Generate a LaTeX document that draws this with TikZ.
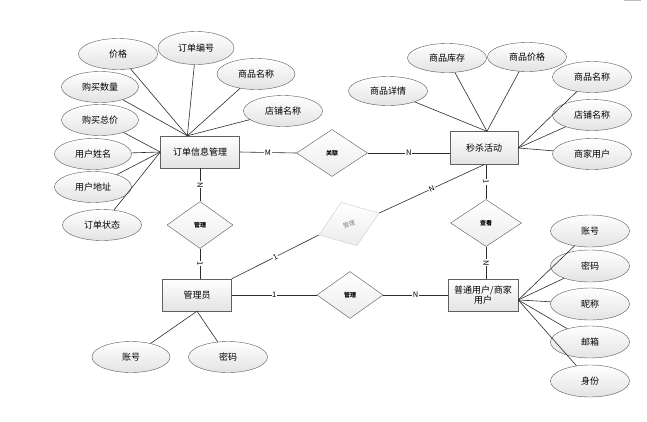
\documentclass[tikz,border=0pt]{standalone}
\usepackage{fontspec}
\setmainfont{Noto Sans CJK SC}
\usetikzlibrary{shapes.geometric}

\begin{document}
\begin{tikzpicture}[x=1pt,y=-1pt,
  entity/.style={draw=gray!75!black,top color=white,bottom color=gray!22,minimum height=32pt,inner sep=1pt,font=\fontsize{9}{10.5}\selectfont},
  attr/.style={ellipse,draw=gray!70!black,top color=white,bottom color=gray!22,minimum width=78pt,minimum height=31pt,inner sep=0pt,font=\fontsize{9}{10}\selectfont},
  rel/.style={diamond,draw=gray!70!black,top color=white,bottom color=gray!15,minimum width=66pt,minimum height=47pt,inner sep=0pt,font=\fontsize{6}{7}\selectfont\bfseries},
  card/.style={fill=white,inner sep=0.6pt,font=\fontsize{7.5}{8}\selectfont},
  link/.style={draw=gray!35!black,line width=0.6pt}]
\fill[white] (0,0) rectangle (647,421);
\useasboundingbox (0,0) rectangle (647,421);
\draw[gray!50,line width=1pt] (624,0.5)--(641,0.5);

% entities
\node[entity,minimum width=79pt] (order) at (200,152) {订单信息管理};
\node[entity,minimum width=68pt,minimum height=33pt] (seckill) at (484,148) {秒杀活动};
\node[entity,minimum width=69pt] (admin) at (197,295) {管理员};
\node[entity,minimum width=70pt,align=center] (user) at (483,295) {普通用户/商家\\用户};

% relations
\node[rel,minimum width=71pt] (assoc) at (332,153) {关联};
\node[rel] (mgrorder) at (200,225) {管理};
\node[rel] (mgruser) at (350,295) {管理};
\node[rel,minimum width=71pt] (view) at (486,223) {查看};
\node[rel,rotate=20,draw=gray!40,text=gray,font=\fontsize{6}{7}\selectfont,minimum width=64pt,minimum height=46pt] (mgrkill) at (349,224) {管理};

% attributes of order
\node[attr,minimum width=79pt] (price) at (118,54) {价格};
\node[attr,minimum width=76pt,minimum height=33pt] (orderno) at (196,48) {订单编号};
\node[attr] (gname) at (256,74) {商品名称};
\node[attr,minimum width=79pt] (shop) at (283,111) {店铺名称};
\node[attr,minimum width=77pt] (amount) at (100,87) {购买数量};
\node[attr,minimum width=77pt] (total) at (100,120) {购买总价};
\node[attr,minimum width=77pt] (uname) at (93,154) {用户姓名};
\node[attr,minimum width=77pt] (addr) at (93,187) {用户地址};
\node[attr,minimum width=79pt] (state) at (102,225) {订单状态};

% attributes of seckill
\node[attr,minimum width=79pt,minimum height=29pt] (detail) at (388,91) {商品详情};
\node[attr,minimum width=79pt,minimum height=29pt] (stock) at (447,58) {商品库存};
\node[attr,minimum width=79pt,minimum height=29pt] (gprice) at (527,57) {商品价格};
\node[attr,minimum width=79pt] (kname) at (592,77) {商品名称};
\node[attr,minimum width=79pt] (kshop) at (592,115) {店铺名称};
\node[attr,minimum width=79pt] (seller) at (592,154) {商家用户};

% attributes of user
\node[attr,minimum width=79pt,minimum height=32pt] (uacc) at (590,231) {账号};
\node[attr,minimum width=79pt,minimum height=32pt] (upwd) at (590,266) {密码};
\node[attr,minimum width=79pt,minimum height=32pt] (nick) at (590,304) {昵称};
\node[attr,minimum width=79pt,minimum height=32pt] (mail) at (590,342) {邮箱};
\node[attr,minimum width=79pt,minimum height=32pt] (role) at (590,381) {身份};

% attributes of admin
\node[attr,minimum width=78pt] (aacc) at (131,357) {账号};
\node[attr,minimum width=79pt] (apwd) at (228,357) {密码};

\foreach \a in {price,orderno,gname,shop,amount}
  \draw[link] (\a) -- (order.128);
\foreach \a in {total,uname,addr,state}
  \draw[link] (\a) -- (order.west);
\foreach \a in {detail,stock,gprice}
  \draw[link] (\a) -- (seckill.80);
\foreach \a in {kname,kshop,seller}
  \draw[link] (\a) -- (seckill.east);
\foreach \a in {uacc,upwd,nick,mail,role}
  \draw[link] (\a) -- (user.352);
\foreach \a in {aacc,apwd}
  \draw[link] (\a) -- (admin.south);

% relationships
\draw[link] (order.east) -- node[card] {M} (assoc.west);
\draw[link] (assoc.east) -- node[card] {N} (assoc.east -| seckill.west);
\draw[link] (order.south) -- node[card,sloped] {N} (mgrorder.north);
\draw[link] (mgrorder.south) -- node[card,sloped] {1} (mgrorder.south |- admin.north);
\draw[link] (admin.east) -- node[card] {1} (mgruser.west);
\draw[link] (mgruser.east) -- node[card] {N} (user.west);
\draw[link] (seckill.south -| view.north) -- node[card,sloped] {1} (view.north);
\draw[link] (view.south) -- node[card,sloped] {N} (view.south |- user.north);
\draw[link] (admin.north east) -- node[card,sloped] {1} (mgrkill.west);
\draw[link] (mgrkill.east) -- node[card,sloped] {N} (seckill.south);
\end{tikzpicture}
\end{document}
